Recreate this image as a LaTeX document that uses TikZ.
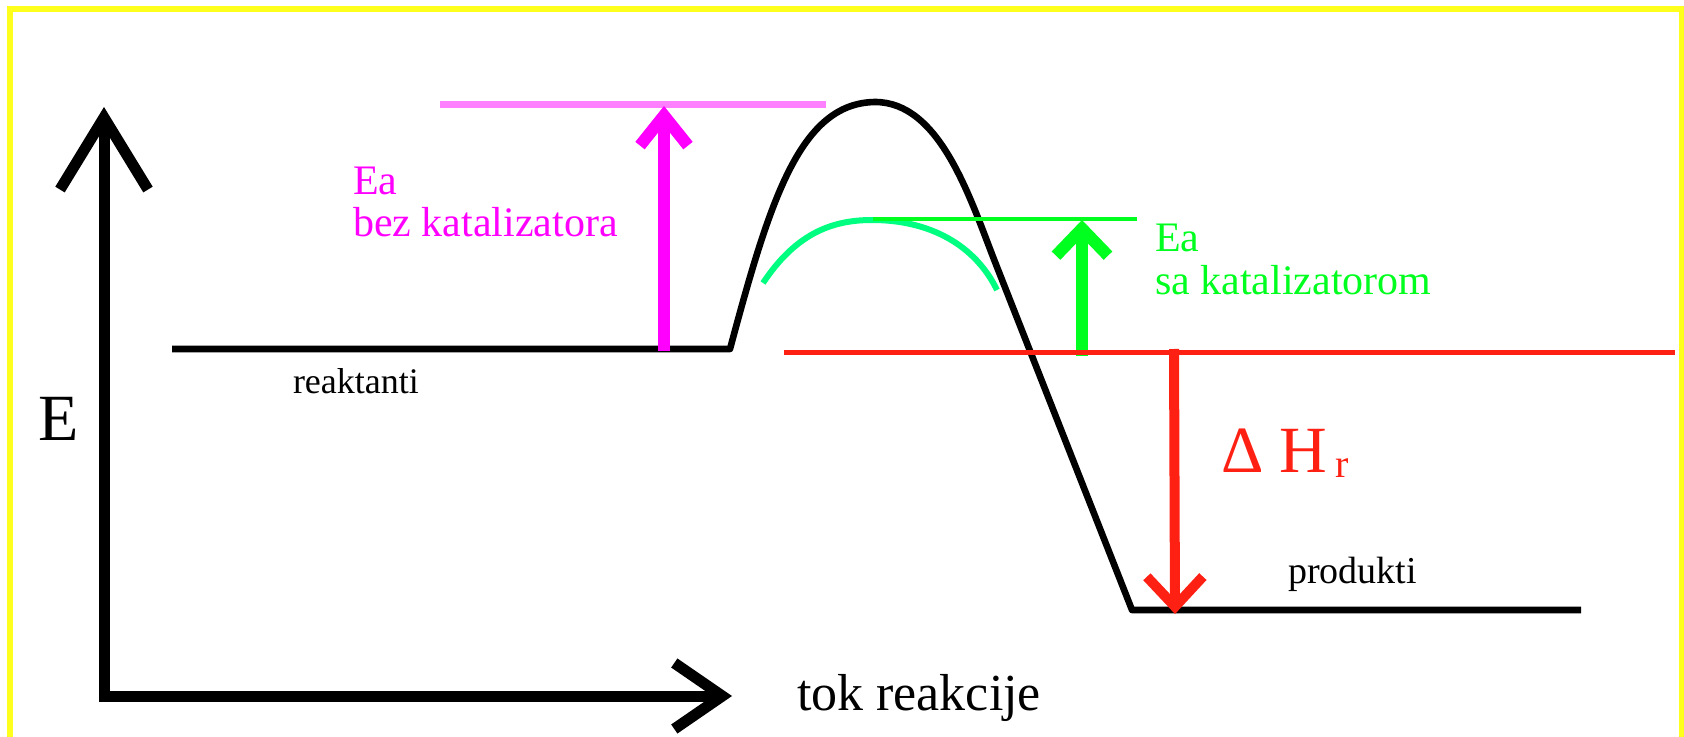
\documentclass[tikz,border=0pt]{standalone}
\usepackage{fontspec}
\setmainfont{Liberation Serif}
\usetikzlibrary{arrows.meta}
\definecolor{gelb}{RGB}{255,255,30}
\definecolor{rosa}{RGB}{255,128,255}
\definecolor{lila}{RGB}{255,0,255}
\definecolor{gruen}{RGB}{0,255,30}
\definecolor{mint}{RGB}{0,255,128}
\definecolor{rot}{RGB}{255,32,20}

\begin{document}
\begin{tikzpicture}[x=0.5pt, y=-0.5pt,
		achse/.style={line width=5.5pt, black},
		niveau/.style={line width=3.3pt, black, line join=round},
		pfeil/.style={line width=6pt},
		txt/.style={anchor=base west, inner sep=0pt, outer sep=0pt},
		klein/.style={font=\fontsize{21}{25}\selectfont}]
		% Bildbereich
		\useasboundingbox[fill=white] (0,0) rectangle (1684,737);
		% Rahmen
		\draw[gelb, line width=3pt] (10,745) -- (10,9) -- (1682,9) -- (1682,745);
		% Achsen zeichnen
		\coordinate (O) at (104,696);
		\coordinate (ytip) at (104,107);
		\coordinate (xtip) at (732,696);
		\draw[achse, {Straight Barb[length=36pt,width=44pt]}-{Straight Barb[length=24pt,width=33pt]}] (ytip) -- (O) -- (xtip);
		% Achsen beschriften
		\node[txt, font=\fontsize{33}{36}\selectfont] (E) at (39,440) {E};
		\node[txt, font=\fontsize{26}{30}\selectfont] (tok) at (797,710) {tok reakcije};
		% Energieverlauf ohne Katalysator
		\coordinate (r1) at (172,349);
		\coordinate (r2) at (730,349);
		\coordinate (p1) at (1132,610);
		\coordinate (p2) at (1581,610);
		\draw[niveau] (r1) -- (r2) .. controls (770,200) and (800,103) .. (875,102)
			.. controls (940,102) and (970,198) .. (995,262) -- (p1) -- (p2);
		\node[txt, font=\fontsize{18}{22}\selectfont] (reak) at (293,393) {reaktanti};
		\node[txt, font=\fontsize{19}{22}\selectfont] (prod) at (1288,583) {produkti};
		% Energieverlauf mit Katalysator
		\draw[mint, line width=3pt] (763,283) .. controls (795,235) and (830,220) .. (872,220)
			.. controls (930,220) and (975,245) .. (997,290);
		% Ea ohne Katalysator
		\coordinate (m1) at (440,105);
		\coordinate (m2) at (826,105);
		\draw[rosa, line width=3.5pt] (m1) -- (m2);
		\coordinate (ea1) at (664,351);
		\coordinate (ea2) at (664,106);
		\draw[pfeil, lila, -{Straight Barb[length=15pt,width=24pt]}] (ea1) -- (ea2);
		\node[txt, klein, lila] (ea) at (353,195) {Ea};
		\node[txt, klein, lila] (bez) at (353,237) {bez katalizatora};
		% Ea mit Katalysator
		\coordinate (g1) at (873,219);
		\coordinate (g2) at (1137,219);
		\draw[gruen, line width=1.75pt] (g1) -- (g2);
		\coordinate (eb1) at (1082,356);
		\coordinate (eb2) at (1082,220);
		\draw[pfeil, gruen, -{Straight Barb[length=13.5pt,width=26pt]}] (eb1) -- (eb2);
		\node[txt, klein, gruen] (eak) at (1155,252) {Ea};
		\node[txt, klein, gruen] (sa) at (1155,295) {sa katalizatorom};
		% Reaktionsenthalpie
		\coordinate (h1) at (784,352);
		\coordinate (h2) at (1675,352);
		\draw[rot, line width=2.5pt] (h1) -- (h2);
		\coordinate (dh1) at (1174,349);
		\coordinate (dh2) at (1175,614);
		\draw[pfeil, rot, line width=5pt, -{Straight Barb[length=15pt,width=28pt]}] (dh1) -- (dh2);
		\node[txt, rot] (dH) at (1221,472) {\fontsize{33}{36}\selectfont Δ H\hspace{4pt}\raisebox{-2.5pt}{\fontsize{20}{22}\selectfont r}};
	\end{tikzpicture}
\end{document}
